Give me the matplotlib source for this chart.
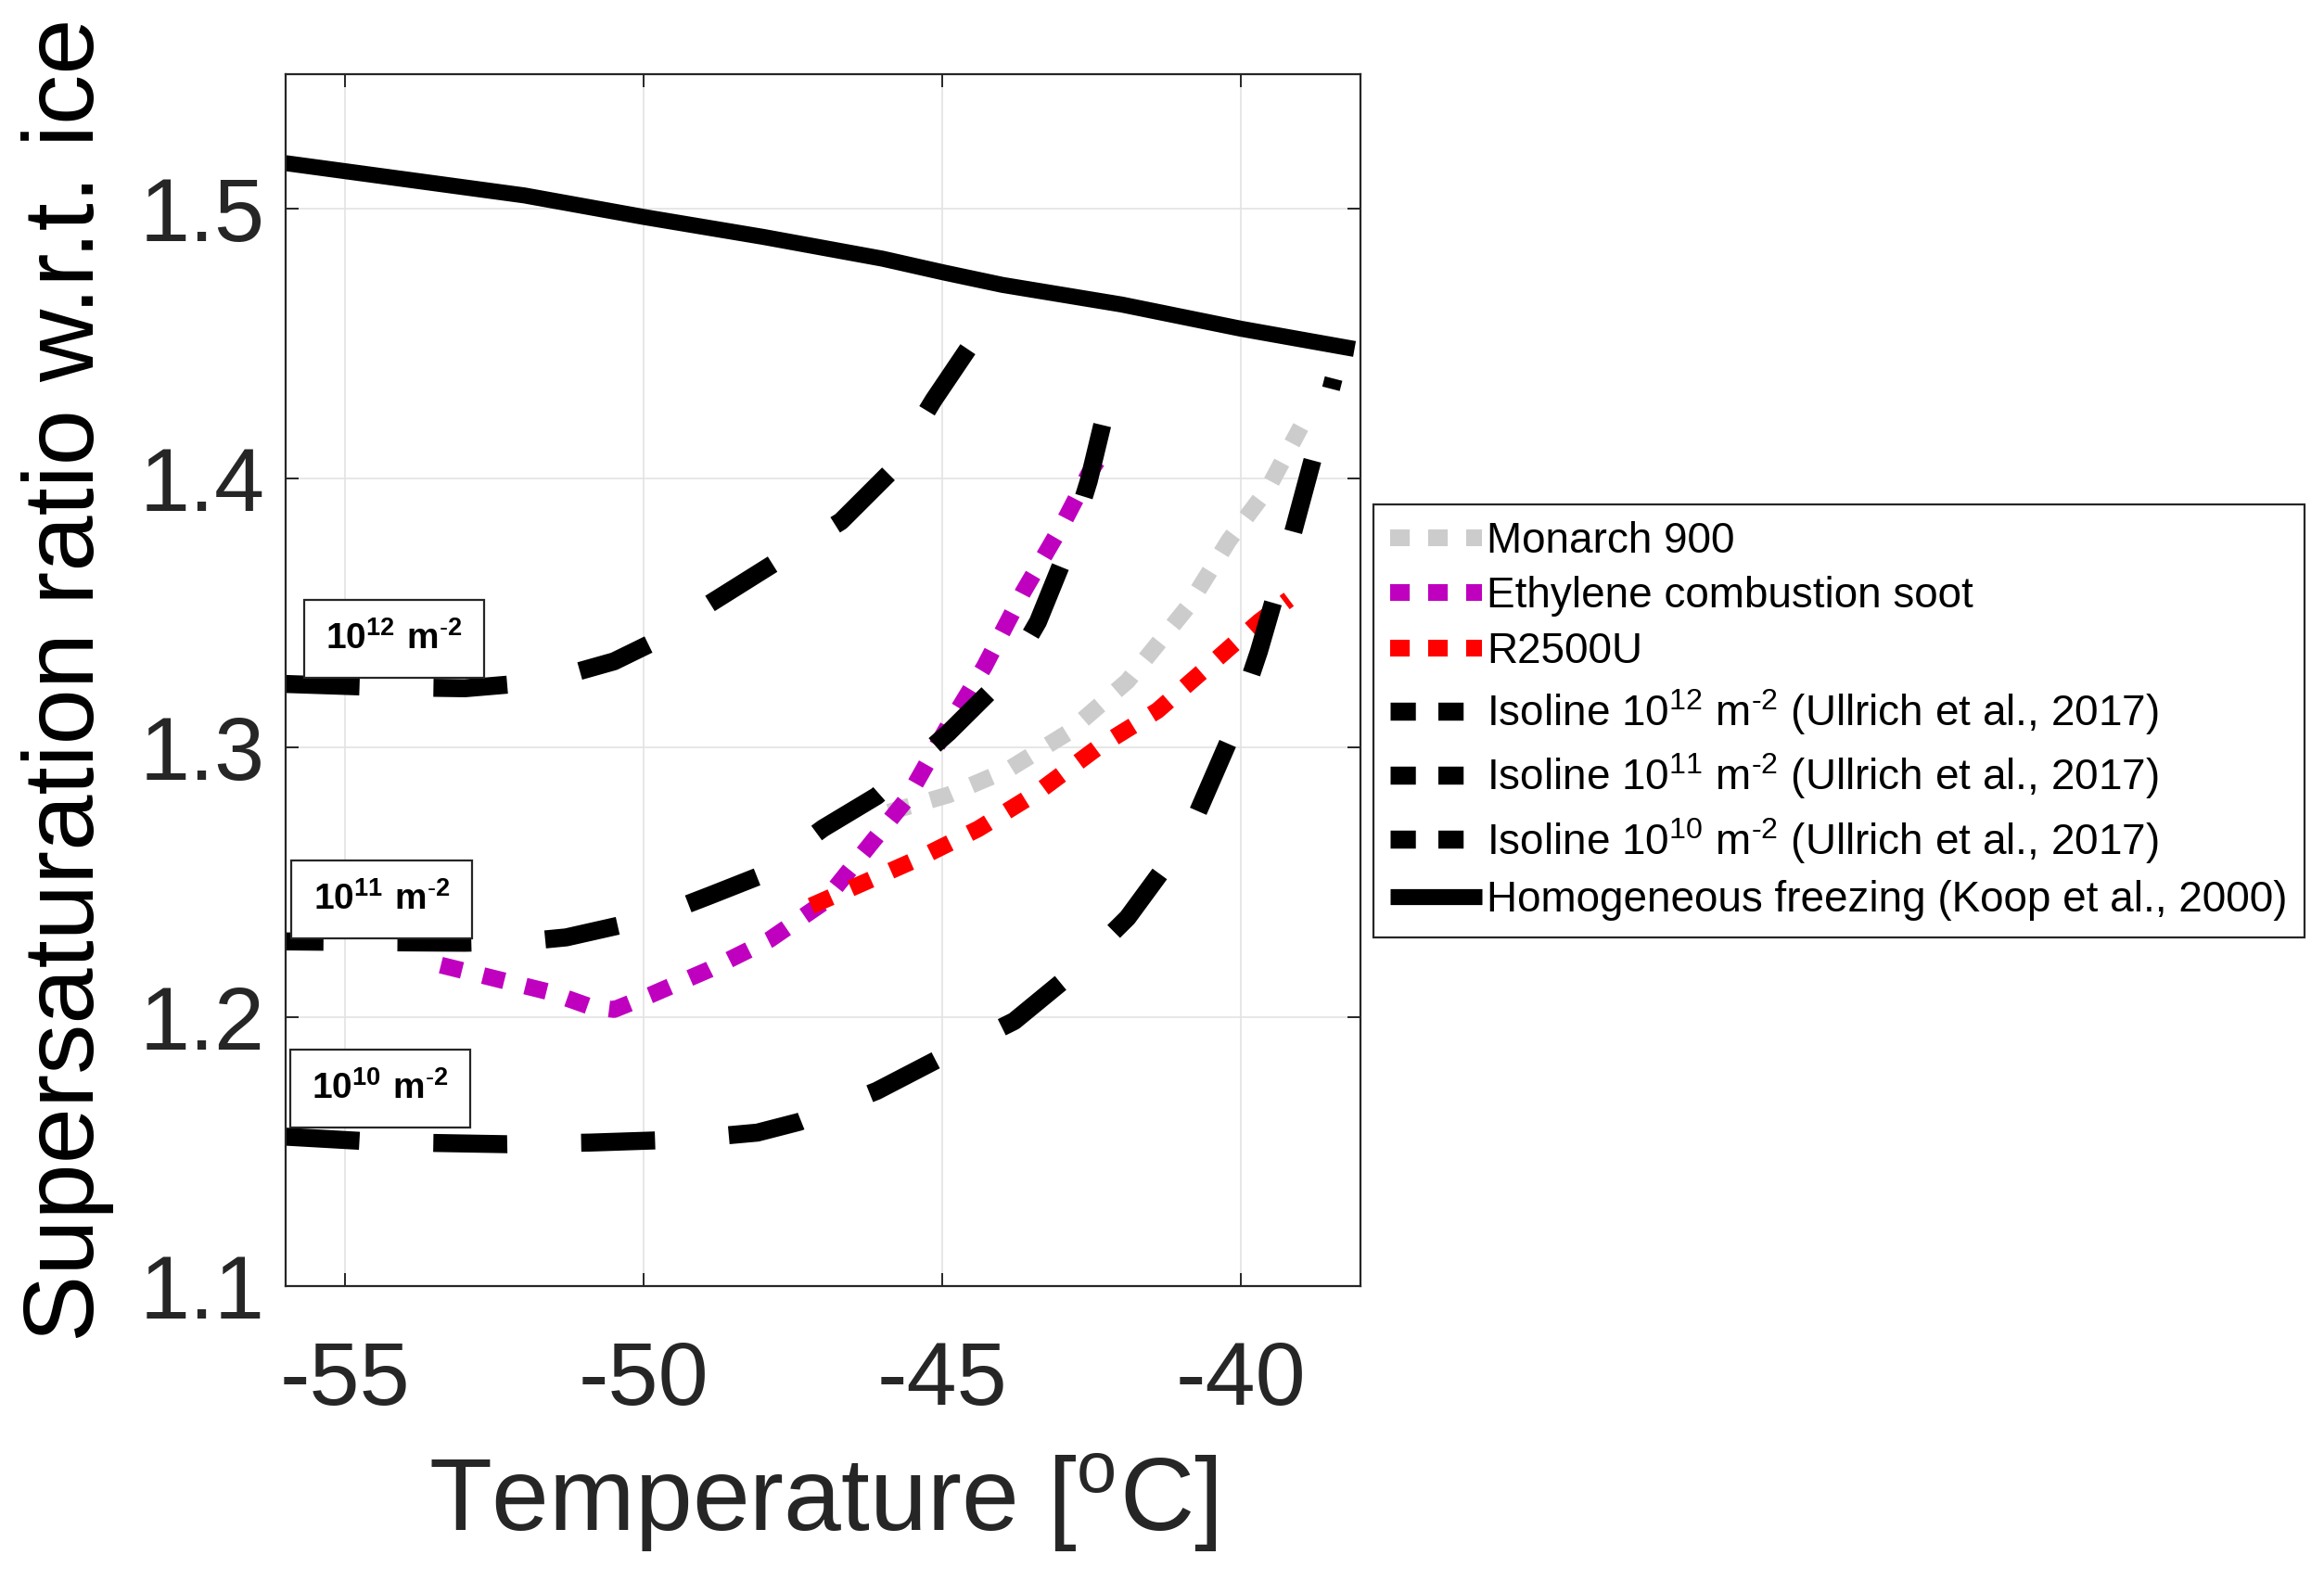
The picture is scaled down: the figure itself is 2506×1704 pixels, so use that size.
import matplotlib
matplotlib.use("Agg")
import matplotlib.pyplot as plt
from matplotlib.lines import Line2D

plt.rcParams['font.family'] = ['Liberation Sans', 'DejaVu Sans']
plt.rcParams['mathtext.fontset'] = 'custom'
plt.rcParams['mathtext.rm'] = 'Liberation Sans'
plt.rcParams['mathtext.bf'] = 'Liberation Sans:bold'
plt.rcParams['mathtext.default'] = 'regular'
plt.rcParams['axes.unicode_minus'] = False

## data
t_homo = [-56, -54, -52, -50, -48, -46, -45, -44, -42, -40, -38.1]
s_homo = [1.517, 1.511, 1.505, 1.497, 1.4896, 1.4815, 1.4765, 1.4718, 1.4645, 1.4555, 1.448]

t_iso12 = [-56, -54.5, -53, -52.2, -51.3, -50.5, -49.9, -49.0, -47.8, -46.7, -45.9, -45.15, -44.45]
s_iso12 = [1.3236, 1.3225, 1.322, 1.3235, 1.327, 1.332, 1.3385, 1.352, 1.3687, 1.384, 1.4017, 1.429, 1.452]

t_iso11 = [-56, -54.5, -53, -52, -51.3, -50.4, -49.6, -48.9, -48.1, -47.0, -46.1, -44.9, -43.9, -43.4, -42.9, -42.55, -42.3]
s_iso11 = [1.228, 1.2277, 1.2275, 1.228, 1.2295, 1.234, 1.239, 1.245, 1.252, 1.270, 1.282, 1.3055, 1.3275, 1.3467, 1.374, 1.399, 1.422]

t_iso10 = [-56, -54.4, -52.3, -50.9, -49.4, -48.1, -47.4, -46.1, -44.9, -43.8, -42.9, -41.9, -40.9, -40.2, -39.7, -39.2, -38.8, -38.45]
s_iso10 = [1.1555, 1.1535, 1.1527, 1.1533, 1.1544, 1.157, 1.161, 1.1725, 1.1863, 1.1984, 1.2148, 1.2368, 1.267, 1.3027, 1.3357, 1.374, 1.407, 1.437]

t_ethyl = [-53.4, -52.6, -51.6, -50.9, -50.5, -49.9, -48.9, -47.9, -47.0, -46.4, -45.6, -44.9, -44.3, -43.65, -43.0, -42.55, -42.3]
s_ethyl = [1.2192, 1.2148, 1.2093, 1.2038, 1.2027, 1.208, 1.2176, 1.2286, 1.2423, 1.2588, 1.2808, 1.3082, 1.330, 1.3577, 1.3824, 1.4016, 1.41]

t_monarch = [-45.9, -44.9, -43.9, -42.9, -41.9, -40.9, -40.2, -39.55, -39.0]
s_monarch = [1.276, 1.2824, 1.2918, 1.3055, 1.3247, 1.352, 1.377, 1.3962, 1.419]

t_r2500 = [-47.2, -46.4, -45.4, -44.4, -43.4, -42.4, -41.4, -40.4, -39.7, -39.2]
s_r2500 = [1.2412, 1.249, 1.2588, 1.2698, 1.2835, 1.300, 1.3137, 1.333, 1.3467, 1.355]

labels = [
    "Monarch 900",
    "Ethylene combustion soot",
    "R2500U",
    r"Isoline 10$^{12}$ m$^{\text{-}2}$ (Ullrich et al., 2017)",
    r"Isoline 10$^{11}$ m$^{\text{-}2}$ (Ullrich et al., 2017)",
    r"Isoline 10$^{10}$ m$^{\text{-}2}$ (Ullrich et al., 2017)",
    "Homogeneous freezing (Koop et al., 2000)",
]
box_labels = [r"$\mathbf{10^{12}\ m^{\text{-}2}}$", r"$\mathbf{10^{11}\ m^{\text{-}2}}$",
              r"$\mathbf{10^{10}\ m^{\text{-}2}}$"]

fig = plt.figure(figsize=(12.53, 8.52), dpi=200)
ax = fig.add_axes([0.1229, 0.186, 0.4625, 0.767])

dot = (1.3, 1.3)
dash = (4.1, 4.1)
lw_dot = 6.5
lw_dash = 7
dark = '#262626'
colors = ['#cccccc', '#bf00bf', '#ff0000']

ax.plot(t_monarch, s_monarch, color=colors[0], lw=lw_dot, dashes=dot, dash_capstyle='butt')
ax.plot(t_ethyl, s_ethyl, color=colors[1], lw=lw_dot, dashes=dot, dash_capstyle='butt')
ax.plot(t_r2500, s_r2500, color=colors[2], lw=lw_dot, dashes=dot, dash_capstyle='butt')
ax.plot(t_iso12, s_iso12, color='k', lw=lw_dash, linestyle=(0, dash), dash_capstyle='butt')
ax.plot(t_iso11, s_iso11, color='k', lw=lw_dash, linestyle=(2.0, dash), dash_capstyle='butt')
ax.plot(t_iso10, s_iso10, color='k', lw=lw_dash, linestyle=(0, dash), dash_capstyle='butt')
h7, = ax.plot(t_homo, s_homo, color='k', lw=6.2, solid_capstyle='butt')

# legend keys: small squares like the original
dot_proxy = [Line2D([], [], color=c, lw=lw_dot, dashes=(1.17, 1.1), dash_capstyle='butt')
             for c in colors]
iso_proxy = [Line2D([], [], color='k', lw=lw_dash, dashes=(1.4, 1.25), dash_capstyle='butt')
             for i in range(3)]

ax.set_xlim(-56, -38)
ax.set_ylim(1.1, 1.55)
ax.set_xticks([-55, -50, -45, -40])
ax.set_yticks([1.1, 1.2, 1.3, 1.4, 1.5])
ax.set_yticklabels(["1.1", "1.2", "1.3", "1.4", "1.5"])
ax.grid(True, color='#e3e3e3', lw=0.6)
ax.set_axisbelow(True)
ax.tick_params(direction='in', length=5, width=0.7, top=True, right=True,
               labelsize=35, colors=dark)
ax.tick_params(axis='x', pad=21)
ax.tick_params(axis='y', pad=8)
for sp in ax.spines.values():
    sp.set_color(dark)
    sp.set_linewidth(0.8)

ax.set_xlabel("Temperature [$^{o}$C]", fontsize=40, color=dark, labelpad=11)
ax.set_ylabel("Supersaturation ratio w.r.t. ice", fontsize=39, color='k', labelpad=10)

box_x = [-54.18, -54.39, -54.42]
box_y = [1.3403, 1.2436, 1.1733]
for bx, by, bl in zip(box_x, box_y, box_labels):
    ax.text(bx, by, bl, fontsize=14, ha='center', va='center',
            bbox=dict(boxstyle='square,pad=0.6', fc='white', ec='#262626', lw=0.8))

leg = fig.legend(dot_proxy + iso_proxy + [h7], labels,
                 loc='upper left', bbox_to_anchor=(0.591, 0.681),
                 fontsize=16.5, frameon=True, fancybox=False, framealpha=1,
                 edgecolor='#262626', handlelength=2.15, handletextpad=0.12,
                 labelspacing=0.34, borderpad=0.4, borderaxespad=0)
leg.get_frame().set_linewidth(0.8)

fig.savefig("out.png", dpi=200)
